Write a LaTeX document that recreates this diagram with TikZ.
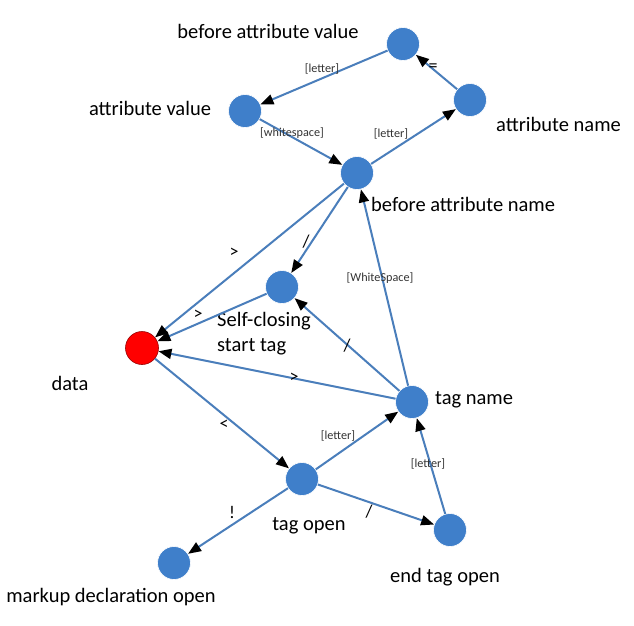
\documentclass[tikz,border=0pt]{standalone}
\usepackage{fontspec}
\setmainfont{Carlito}
\usetikzlibrary{arrows.meta}
\definecolor{nodeblue}{HTML}{3F7FCA}
\definecolor{edgeblue}{HTML}{4A7EBB}
\definecolor{lblgray}{HTML}{333333}
\tikzset{
  state/.style={circle,fill=nodeblue,draw=white,line width=0.6pt,minimum size=33pt,inner sep=0pt},
  startstate/.style={circle,fill=red,draw=red!60!black,line width=0.6pt,minimum size=33pt,inner sep=0pt},
  trans/.style={draw=edgeblue,line width=2pt,-{Triangle[black,length=13pt,width=10pt]}},
  nlabel/.style={font=\fontsize{20.5}{25}\selectfont,text=black,inner sep=0pt},
  elabel/.style={font=\fontsize{12.2}{14}\selectfont,text=lblgray,inner sep=0pt},
  slabel/.style={font=\fontsize{18}{20}\selectfont,text=black,inner sep=0pt}
}
\begin{document}
\begin{tikzpicture}[x=1pt,y=-1pt]
\useasboundingbox (0,0) rectangle (634,625);
% states
\node[state] (bav) at (403,44) {};
\node[state] (an) at (470,100) {};
\node[state] (av) at (245,111) {};
\node[state] (ban) at (357,173) {};
\node[state] (sc) at (282,287) {};
\node[startstate] (data) at (142,348) {};
\node[state] (tn) at (412,402) {};
\node[state] (to) at (302,479) {};
\node[state] (eto) at (450,530) {};
\node[state] (mdo) at (174,563) {};
% state labels
\node[nlabel] (lbav) at (268,31) {before attribute value};
\node[nlabel] (lav) at (150,108) {attribute value};
\node[nlabel,anchor=west] (lan) at (496,124) {attribute name};
\node[nlabel,anchor=west] (lban) at (371,204) {before attribute name};
\node[nlabel,anchor=west,align=left] (lsc) at (217,334) {Self-closing\\start tag};
\node[nlabel] (ldata) at (70,383) {data};
\node[nlabel,anchor=west] (ltn) at (435,400) {tag name};
\node[nlabel] (lto) at (309,526) {tag open};
\node[nlabel] (leto) at (445,577) {end tag open};
\node[nlabel] (lmdo) at (111,597) {markup declaration open};
% transitions
\draw[trans] (bav) -- (av);
\draw[trans] (an) -- (bav);
\draw[trans] (av) -- (ban);
\draw[trans] (ban) -- (an);
\draw[trans] (ban) -- (data);
\draw[trans] (ban) -- (sc);
\draw[trans] (tn) -- (ban);
\draw[trans] (sc) -- (data);
\draw[trans] (tn) -- (sc);
\draw[trans] (tn) -- (data);
\draw[trans] (data) -- (to);
\draw[trans] (to) -- (tn);
\draw[trans] (eto) -- (tn);
\draw[trans] (to) -- (mdo);
\draw[trans] (to) -- (eto);
% transition labels
\node[elabel] (e1) at (322,69) {[letter]};
\node[slabel] (e2) at (433,68) {=};
\node[elabel] (e3) at (292,133) {[whitespace]};
\node[elabel] (e4) at (391,134) {[letter]};
\node[slabel] (e5) at (234,253) {>};
\node[slabel] (e6) at (306,242) {/};
\node[elabel] (e7) at (380,278) {[WhiteSpace]};
\node[slabel] (e8) at (198,315) {>};
\node[slabel] (e9) at (347,346) {/};
\node[slabel] (e10) at (294,378) {>};
\node[slabel] (e11) at (224,425) {<};
\node[elabel] (e12) at (338,436) {[letter]};
\node[elabel] (e13) at (428,464) {[letter]};
\node[slabel] (e14) at (232,512) {!};
\node[slabel] (e15) at (369,512) {/};
\end{tikzpicture}
\end{document}
